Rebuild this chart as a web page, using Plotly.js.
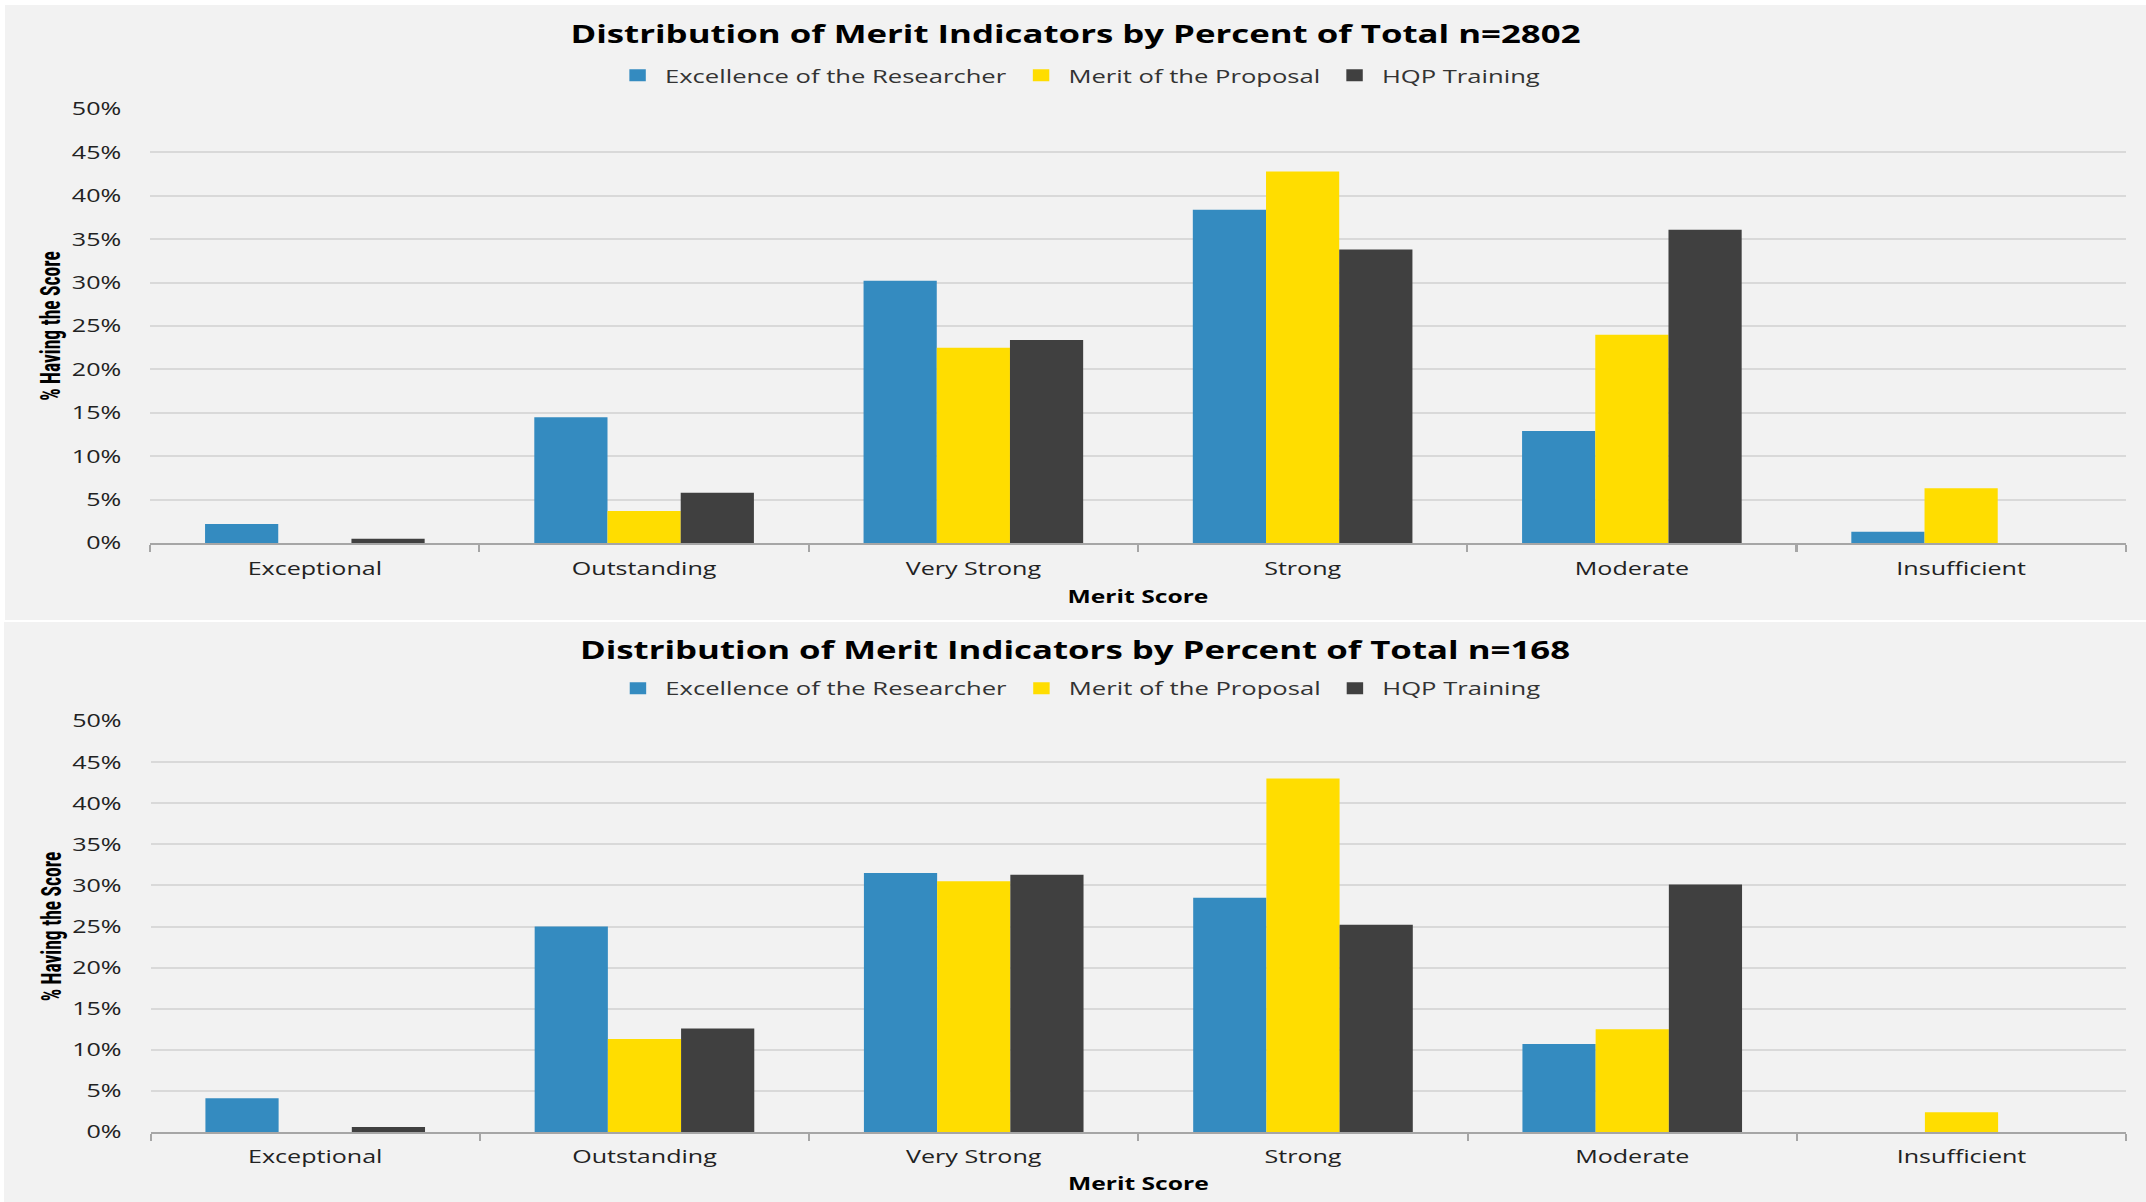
<!DOCTYPE html>
<html>
<head>
<meta charset="utf-8">
<script src="https://cdn.plot.ly/plotly-3.0.1.min.js"></script>
<style>
html,body{margin:0;padding:0;background:#ffffff;width:2146px;height:1202px;overflow:hidden;}
#top{position:absolute;left:5px;top:5px;}
#bot{position:absolute;left:4px;top:622px;}
</style>
</head>
<body>
<div id="top"></div>
<div id="bot"></div>
<script>
const categories = ["Exceptional", "Outstanding", "Very Strong", "Strong", "Moderate", "Insufficient"];
const seriesNames = ["Excellence of the Researcher", "Merit of the Proposal", "HQP Training"];
const seriesColors = ["#348BC0", "#FFDD00", "#404040"];
const yTickVals = [0, 5, 10, 15, 20, 25, 30, 35, 40, 45, 50];
const yTickText = ["0%", "5%", "10%", "15%", "20%", "25%", "30%", "35%", "40%", "45%", "50%"];

const titleTop = "Distribution of Merit Indicators by Percent of Total n=2802";
const excellenceTop = [2.2, 14.5, 30.2, 38.4, 12.9, 1.3];
const meritTop      = [0,   3.7,  22.5, 42.8, 24.0, 6.3];
const hqpTop        = [0.5, 5.8,  23.4, 33.8, 36.1, 0];

const titleBot = "Distribution of Merit Indicators by Percent of Total n=168";
const excellenceBot = [4.1, 25.0, 31.5, 28.5, 10.7, 0];
const meritBot      = [0,   11.3, 30.5, 43.0, 12.5, 2.4];
const hqpBot        = [0.6, 12.6, 31.3, 25.2, 30.1, 0];

// The original picture is stretched horizontally; draw narrower, then stretch.
const S = 1.37;
const FONT = "'Open Sans', 'DejaVu Sans', sans-serif";
const NARROW = "'Liberation Sans Narrow', 'Roboto Condensed', 'Liberation Sans', sans-serif";

function makeTraces(vals) {
  return vals.map((v, i) => ({
    type: "bar",
    name: seriesNames[i],
    x: categories,
    y: v,
    marker: {color: seriesColors[i]},
    hoverinfo: "x+y+name"
  }));
}

function makeLayout(title, m, titleY, legendY, xStandoff, titleStandoff) {
  return {
    width: m.w / S, height: m.h,
    margin: {l: m.l / S, r: m.r / S, t: m.t, b: m.b, pad: 0},
    paper_bgcolor: "#f2f2f2",
    plot_bgcolor: "#f2f2f2",
    font: {family: FONT, color: "#333333", size: 18},
    title: {
      text: title,
      font: {family: FONT, size: 25.4, color: "#000000", weight: "bold"},
      x: 0.5, xanchor: "center", xref: "container",
      y: titleY, yanchor: "middle", yref: "container"
    },
    showlegend: true,
    legend: {
      orientation: "h", x: 0.47, xanchor: "center", y: legendY, yanchor: "middle",
      font: {family: FONT, size: 18.7, color: "#333333"},
      bgcolor: "rgba(0,0,0,0)", traceorder: "normal"
    },
    barmode: "group",
    bargap: 0.333,
    bargroupgap: 0,
    xaxis: {
      type: "category",
      showgrid: false,
      showline: true, linecolor: "#a6a6a6", linewidth: 2,
      ticks: "outside", tickson: "boundaries", ticklen: 7, tickcolor: "#a6a6a6", tickwidth: 1.5,
      ticklabelstandoff: xStandoff,
      tickfont: {family: FONT, size: 18.3, color: "#222222"},
      title: {text: "Merit Score", font: {family: FONT, size: 18, color: "#000000", weight: "bold"}, standoff: titleStandoff},
      fixedrange: true
    },
    yaxis: {
      range: [0, 50],
      tickvals: yTickVals,
      ticktext: yTickText,
      ticks: "outside", ticklen: 16.5, tickcolor: "rgba(0,0,0,0)",
      showgrid: true, gridcolor: "#d9d9d9", gridwidth: 2,
      zeroline: false, showline: false,
      tickfont: {family: FONT, size: 18.3, color: "#222222"},
      title: {text: "% Having the Score", font: {family: NARROW, size: 19.5, color: "#000000", weight: "bold"}, standoff: 2},
      fixedrange: true
    }
  };
}

function stretch(id) {
  const el = document.getElementById(id);
  el.style.transformOrigin = "0 0";
  el.style.transform = "scaleX(" + S + ")";
}

Plotly.newPlot("top",
  makeTraces([excellenceTop, meritTop, hqpTop]),
  makeLayout(titleTop, {w: 2141, h: 615, l: 145.5, r: 21, t: 103.5, b: 77}, 0.953, 1.077, 8, 11),
  {displayModeBar: false, staticPlot: true}).then(() => stretch("top"));

Plotly.newPlot("bot",
  makeTraces([excellenceBot, meritBot, hqpBot]),
  makeLayout(titleBot, {w: 2142, h: 580, l: 146, r: 21, t: 99, b: 70}, 0.952, 1.079, 7, 10),
  {displayModeBar: false, staticPlot: true}).then(() => stretch("bot"));
</script>
</body>
</html>
